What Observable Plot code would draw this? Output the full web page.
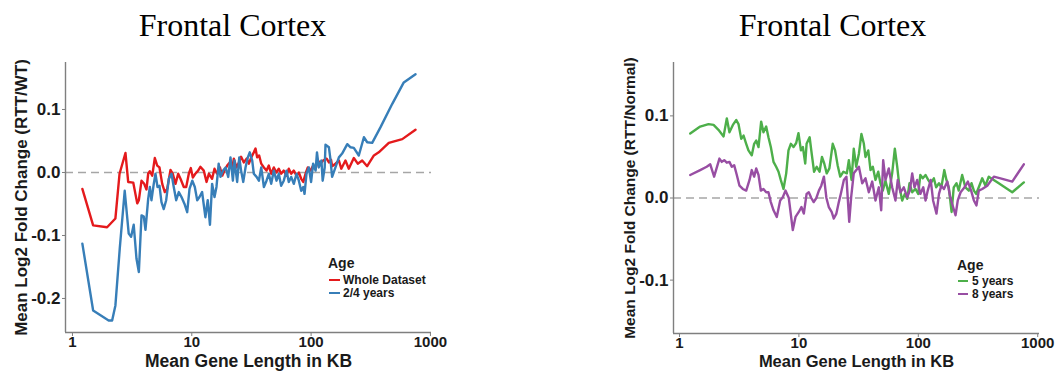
<!DOCTYPE html>
<html>
<head>
<meta charset="utf-8">
<script src="https://cdn.jsdelivr.net/npm/d3@7"></script>
<script src="https://cdn.jsdelivr.net/npm/@observablehq/plot@0.6"></script>
<style>
  html, body { margin: 0; padding: 0; background: #fff; }
  #wrap { position: relative; width: 1058px; height: 371px; overflow: hidden; background: #fff; }
  .panel { position: absolute; top: 0; }
  .leg { position: absolute; font-family: "Liberation Sans", Arial, sans-serif; font-weight: bold; color: #1a1a1a; white-space: nowrap; line-height: 1; }
  .leg .ttl { position: absolute; font-size: 14px; }
  .leg .item { position: absolute; font-size: 12px; }
  .leg .sw { position: absolute; height: 0; border-top: 2px solid; width: 11px; }
</style>
</head>
<body>
<div id="wrap">
  <div id="left" class="panel" style="left:0"></div>
  <div id="right" class="panel" style="left:529px"></div>
</div>
<script>
// ---------------- data ----------------
const panelTitle = "Frontal Cortex";
const xLabel = "Mean Gene Length in KB";
const leftYLabel = "Mean Log2 Fold Change (RTT/WT)";
const rightYLabel = "Mean Log2 Fold Change (RTT/Normal)";
const legendTitle = "Age";
const xTicks = [1, 10, 100, 1000];
const leftYTicks = [-0.2, -0.1, 0, 0.1];
const rightYTicks = [-0.1, 0, 0.1];
const leftSeriesNames = ["Whole Dataset", "2/4 years"];
const rightSeriesNames = ["5 years", "8 years"];

// Left panel: Whole Dataset
const wholeKb = [1.21,1.49,1.95,2.29,2.48,2.78,2.93,3.23,3.49,3.6,3.79,3.99,4.17,4.31,4.45,4.66,4.9,5.13,5.36,5.65,5.94,6.22,6.63,6.93,7.3,7.69,8.04,8.57,8.98,9.44,9.81,10.2,10.7,11.3,11.8,12.6,13.3,13.9,14.8,15.5,16.3,17.2,18,18.8,19.8,20.8,21.8,22.5,23.7,24.8,25.9,27.3,28.8,30.1,31.5,33.1,34.2,35.3,36.7,38.2,40.2,42.3,44.2,46.3,48.7,51.3,53.6,56.1,59,62.2,65,68.1,71.6,75.5,78.9,82.6,85.9,89.8,93.8,98.9,104,109,114,120,126,135,141,147,150,160,171,179,194,207,228,246,268,295,336,369,448,581,750];
const wholeFc = [-0.026,-0.084,-0.087,-0.073,-0.002,0.031,-0.015,-0.016,-0.049,-0.044,-0.013,-0.018,-0.027,-0.002,0.002,-0.005,0.023,0.011,0.008,-0.018,-0.031,-0.026,0.004,-0.002,-0.018,-0.002,-0.01,-0.023,-0.023,-0.002,0.007,-0.008,-0.002,0.003,0.009,0.003,-0.015,-0.002,-0.01,0.006,-0.002,0.008,-0.005,0.003,0.011,0.016,0.006,0.022,0.008,0.016,0.025,0.016,0.022,0.014,0.024,0.032,0.038,0.024,0.027,0.014,0.008,0.003,0.011,-0.002,0.008,0,0.006,-0.002,0.003,-0.005,0.006,-0.002,0.003,-0.005,0,-0.01,-0.015,-0.002,0.008,0.003,0.011,0.006,0.019,0.014,0.019,0.022,0.016,0.02,0.01,0.014,0.019,0.006,0.019,0.006,0.023,0.014,0.019,0.01,0.027,0.032,0.047,0.053,0.068];
// Left panel: 2/4 years
const y24Kb = [1.21,1.49,2.01,2.15,2.29,2.49,2.74,2.96,3.1,3.26,3.44,3.6,3.79,3.96,4.09,4.31,4.45,4.59,4.8,4.96,5.16,5.36,5.57,5.82,6.1,6.42,6.76,7.06,7.4,7.78,8.2,8.69,9.15,9.57,10.1,10.6,11.1,11.6,12.2,13,13.6,14.2,14.8,15.5,16.1,16.8,17.4,18.3,19.2,20.2,21.1,22.1,22.8,24,25,25.9,27,28.2,29.5,30.6,32.1,33.1,34.9,36.5,38.2,40.2,42.3,44.2,46.3,48.7,51.3,53.6,56.1,59,62.2,65,68.1,71.6,75.5,78.9,82.6,85.9,88.1,91.5,95.7,100,104,109,112,116,122,125,130,132,141,145,150,160,171,182,201,214,228,251,277,295,325,382,479,598,750];
const y24Fc = [-0.113,-0.219,-0.235,-0.235,-0.211,-0.121,-0.029,-0.097,-0.102,-0.083,-0.137,-0.158,-0.068,-0.07,-0.091,-0.042,-0.023,-0.044,-0.018,-0.002,-0.023,-0.021,-0.047,-0.058,-0.044,-0.01,-0.002,-0.023,-0.044,-0.031,-0.039,-0.05,-0.063,-0.026,-0.013,-0.023,-0.044,-0.039,-0.031,-0.071,-0.044,-0.083,-0.018,-0.039,-0.023,0.014,-0.007,0.003,0.008,-0.007,0.024,-0.013,0.019,-0.015,0.024,0.003,-0.015,0.008,0.024,0.032,0.019,-0.002,-0.007,-0.013,0.008,-0.023,-0.013,-0.002,-0.018,0.003,-0.013,-0.002,-0.021,-0.013,0.003,-0.015,-0.007,-0.018,-0.002,-0.013,-0.029,-0.023,-0.034,-0.002,0.008,-0.015,0.014,0.003,0.032,0.008,0.019,-0.013,0.008,0.044,0.04,0.022,-0.007,0.008,0.024,0.03,0.045,0.04,0.039,0.027,0.056,0.048,0.047,0.072,0.109,0.143,0.156];
// Right panel: 5 years
const y5Kb = [1.23,1.49,1.75,1.93,2.12,2.34,2.49,2.62,2.8,2.99,3.12,3.29,3.44,3.62,3.78,4.03,4.22,4.39,4.59,4.83,5.05,5.32,5.56,5.82,6.13,6.45,6.75,7.05,7.43,7.83,8.18,8.56,9.01,9.49,9.92,10.4,10.8,11.3,11.6,12.3,12.8,13.4,14.1,14.9,15.6,16.3,17.1,18,19.2,20.1,21.1,22.2,23.6,25.2,26.2,27.6,28.8,30.2,31.8,33.4,35,36.1,38.1,39.8,41.6,43.8,46.2,48.2,50.4,53.1,56.6,60.4,63.6,66.6,69.6,73.3,77.1,80.7,84.4,88.9,94.7,99.8,104,109,115,121,127,135,141,149,156,165,172,180,190,198,209,218,233,248,265,279,292,305,321,343,365,389,472,612,765];
const y5Fc = [0.0785,0.087,0.09,0.089,0.083,0.075,0.097,0.08,0.089,0.095,0.09,0.072,0.076,0.066,0.058,0.052,0.066,0.07,0.062,0.093,0.08,0.087,0.074,0.062,0.044,0.038,0.032,0.022,0.011,0.03,0.058,0.066,0.062,0.067,0.079,0.058,0.062,0.042,0.066,0.074,0.054,0.032,0.038,0.032,0.05,0.042,0.03,0.036,0.066,0.058,0.04,0.026,0.032,0.03,0.046,0.022,0.06,0.038,0.054,0.078,0.066,0.05,0.058,0.034,0.038,0.022,0.032,0.018,0.009,0.021,0.005,0.03,0.06,0.038,0.013,-0.003,0.005,-0.001,0.018,0.007,0.011,0.005,0.028,0.024,0.028,0.022,0.018,0.024,0.013,0.018,0.013,0.034,0.022,0.013,-0.017,0.013,0.018,0.009,0.028,0.013,0.009,0.018,0.009,0.005,0.013,0.024,0.015,0.026,0.018,0.007,0.019];
// Right panel: 8 years
const y8Kb = [1.23,1.49,1.69,1.81,1.95,2.16,2.26,2.37,2.49,2.62,2.74,2.87,3.02,3.18,3.39,3.62,3.86,4.03,4.22,4.39,4.59,4.8,5.05,5.32,5.56,5.82,6.13,6.53,6.97,7.33,7.72,8.23,8.89,9.37,9.98,10.5,11,11.6,12.1,12.7,13.3,14,14.7,15.4,16.2,17,17.8,18.8,19.6,20.6,21.6,22.6,23.8,25,26.4,27.4,28.8,31.8,33.9,36.1,38.5,41.1,43.8,46.7,48.9,50.8,53.1,56.6,60.4,64.4,67.3,70.9,75.6,80.7,84.9,88.9,92.9,97.9,104,110,115,120,127,133,142,149,156,164,175,184,192,205,214,226,244,260,277,292,307,321,343,378,429,488,612,765];
const y8Fc = [0.028,0.034,0.038,0.041,0.026,0.048,0.044,0.046,0.043,0.044,0.038,0.04,0.028,0.015,0.011,0.009,0.022,0.034,0.026,0.036,0.028,0.009,0.011,0.007,0.007,-0.005,-0.015,-0.023,-0.003,0.001,0.009,0,-0.039,-0.023,-0.017,-0.011,-0.019,0.005,0.007,0,-0.005,0,0.009,0.015,0.026,0,-0.011,-0.017,-0.025,-0.019,-0.005,0.007,0.022,0.026,-0.029,0.001,0.03,0.038,0.018,0.024,0.007,0.02,-0.003,0.013,-0.015,0.046,0.022,0.036,0.013,-0.003,0.022,0.007,0.013,0.001,0.009,0.03,0.013,0.022,0.005,0.013,-0.003,0.009,0.022,-0.003,-0.019,0.005,0.015,0.011,0.02,0.003,-0.007,-0.021,-0.003,0.007,0.013,0.02,0.009,-0.003,-0.009,0.009,0.011,0.015,0.026,0.024,0.02,0.041];

const leftColors = ["#E41A1C", "#377EB8"];
const rightColors = ["#4DAF4A", "#984EA3"];

// ---------------- drawing ----------------
const FONT = "'Liberation Sans', Arial, Helvetica, sans-serif";
const SERIF = "'Liberation Serif', 'Times New Roman', Times, serif";

function toRows(names, kbs, fcs) {
  return names.flatMap((name, s) => kbs[s].map((kb, i) => ({kb, fc: fcs[s][i], age: name})));
}

function panel(o) {
  const rows = toRows(o.names, o.kbs, o.fcs);
  const text1 = (t) => [t];
  return Plot.plot({
    width: 529,
    height: 371,
    marginTop: 62,
    marginBottom: o.marginBottom,
    marginLeft: o.marginLeft,
    marginRight: o.marginRight,
    style: {fontFamily: FONT, background: "#fff", color: "#1a1a1a", overflow: "visible"},
    x: {type: "log", domain: o.xDomain},
    y: {domain: o.yDomain},
    color: {domain: o.names, range: o.colors},
    marks: [
      Plot.ruleY([0], {stroke: "#a6a6a6", strokeWidth: 1.6, strokeDasharray: "8,5"}),
      Plot.line(rows, {x: "kb", y: "fc", z: "age", stroke: "age", strokeWidth: 2.4, curve: "linear"}),
      Plot.ruleX([o.xDomain[0]], {stroke: "#7f7f7f", strokeWidth: 1.4}),
      Plot.ruleY([o.yDomain[0]], {stroke: "#7f7f7f", strokeWidth: 1.4}),
      Plot.axisX({ticks: xTicks, tickFormat: (d) => String(d), tickSize: 4, tickPadding: 0,
                  fontSize: o.xTickSize, fontWeight: "bold", stroke: "#7f7f7f", fill: "#1a1a1a", label: null}),
      Plot.axisY({ticks: o.yTicks, tickFormat: (d) => d.toFixed(1), tickSize: 3, tickPadding: 2,
                  fontSize: o.yTickSize, fontWeight: "bold", stroke: "#7f7f7f", fill: "#1a1a1a", label: null}),
      Plot.text(text1(panelTitle), {text: (d) => d, frameAnchor: "top", dy: -27, dx: o.titleDx,
                  fontFamily: SERIF, fontSize: 32, lineAnchor: "bottom", fill: "#000"}),
      Plot.text(text1(xLabel), {text: (d) => d, frameAnchor: "bottom", dy: o.xLabelDy, lineAnchor: "bottom",
                  textAnchor: "middle", fontSize: o.xLabelSize, fontWeight: "bold", fill: "#1a1a1a"}),
      Plot.text(text1(o.yLabel), {text: (d) => d, frameAnchor: "left", rotate: -90, dx: o.yLabelDx,
                  textAnchor: "middle", lineAnchor: "bottom", fontSize: o.yLabelSize, fontWeight: "bold", fill: "#1a1a1a"})
    ]
  });
}

const leftPlot = panel({
  names: leftSeriesNames, kbs: [wholeKb, y24Kb], fcs: [wholeFc, y24Fc], colors: leftColors,
  xDomain: [0.874, 1021], yDomain: [-0.254, 0.1746], yTicks: leftYTicks,
  marginLeft: 65, marginRight: 98, marginBottom: 39,
  titleDx: -16, yLabel: leftYLabel, yLabelDx: -38.5, xLabelDy: 34,
  xTickSize: 15, yTickSize: 17, xLabelSize: 17.5, yLabelSize: 17
});
const rightPlot = panel({
  names: rightSeriesNames, kbs: [y5Kb, y8Kb], fcs: [y5Fc, y8Fc], colors: rightColors,
  xDomain: [0.891, 1035], yDomain: [-0.165, 0.165], yTicks: rightYTicks,
  marginLeft: 144, marginRight: 19, marginBottom: 38,
  titleDx: -24, yLabel: rightYLabel, yLabelDx: -39, xLabelDy: 33,
  xTickSize: 15, yTickSize: 17, xLabelSize: 16.5, yLabelSize: 15.5
});
document.getElementById("left").appendChild(leftPlot);
document.getElementById("right").appendChild(rightPlot);

// ---------------- legends (HTML, over the SVG) ----------------
function legend(names, colors, cfg) {
  const wrap = document.getElementById("wrap");
  const div = document.createElement("div");
  div.className = "leg";
  div.style.left = "0px";
  div.style.top = "0px";
  const t = document.createElement("div");
  t.className = "ttl";
  t.textContent = legendTitle;
  t.style.left = cfg.titleX + "px";
  t.style.top = cfg.titleTop + "px";
  div.appendChild(t);
  names.forEach((n, i) => {
    const sw = document.createElement("div");
    sw.className = "sw";
    sw.style.borderTopColor = colors[i];
    sw.style.left = cfg.swX + "px";
    sw.style.width = cfg.swW + "px";
    sw.style.top = (cfg.swY[i] - 1) + "px";
    div.appendChild(sw);
    const it = document.createElement("div");
    it.className = "item";
    it.textContent = n;
    it.style.left = cfg.textX + "px";
    it.style.top = cfg.itemTop[i] + "px";
    div.appendChild(it);
  });
  wrap.appendChild(div);
}
legend(leftSeriesNames, leftColors,
  {titleX: 328, titleTop: 256, swX: 329, swW: 11, swY: [279.5, 292.5], textX: 343, itemTop: [274, 287]});
legend(rightSeriesNames, rightColors,
  {titleX: 957, titleTop: 258, swX: 958, swW: 10, swY: [280.5, 293.5], textX: 972, itemTop: [275, 288]});
</script>
</body>
</html>
